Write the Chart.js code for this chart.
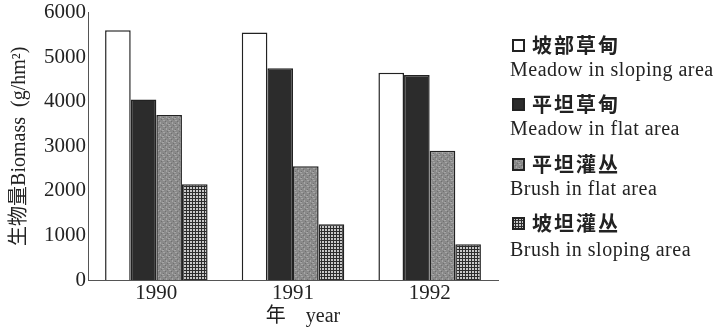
<!DOCTYPE html>
<html lang="zh">
<head>
    <meta charset="UTF-8">
    <title>Biomass by year</title>
    <script src="https://cdn.jsdelivr.net/npm/chart.js"></script>
    <style>
        body { margin: 0; background: #fff; }
        #wrap { position: relative; width: 722px; height: 330px; }
        #legend { position: absolute; left: 510px; top: 0; color: #222; }
        .cn { position: absolute; white-space: nowrap; font: bold 20px "Noto Sans CJK SC", sans-serif; letter-spacing: 2px; line-height: 24px; display: flex; align-items: center; }
        .en { position: absolute; white-space: nowrap; font: 20px "Liberation Serif", serif; letter-spacing: 0.5px; line-height: 24px; left: 0; }
        .cn canvas { margin: 0 7px 0 2px; }
    </style>
</head>
<body>
<div id="wrap">
    <canvas id="bioChart" width="722" height="330"></canvas>
    <div id="legend"></div>
</div>
<script>
    // values (g/hm2)
    const years = ['1990', '1991', '1992'];
    const slopeMeadow = [5600, 5550, 4650];
    const flatMeadow = [4050, 4750, 4600];
    const flatBrush = [3700, 2550, 2900];
    const slopeBrush = [2150, 1250, 800];

    const namesCn = ['坡部草甸', '平坦草甸', '平坦灌丛', '坡坦灌丛'];
    const namesEn = ['Meadow in sloping area', 'Meadow in flat area', 'Brush in flat area', 'Brush in sloping area'];

    // fill patterns for the scanned-look bars
    function makeTile(w, h, paint) {
        const c = document.createElement('canvas');
        c.width = w; c.height = h;
        paint(c.getContext('2d'));
        return c;
    }
    const grayTile = makeTile(6, 6, g => {
        g.fillStyle = '#8a8a8a'; g.fillRect(0, 0, 6, 6);
        g.fillStyle = '#a6a6a6';
        g.fillRect(1, 0, 2, 1); g.fillRect(4, 2, 1, 2); g.fillRect(0, 4, 2, 1);
        g.fillStyle = '#707070';
        g.fillRect(3, 1, 1, 1); g.fillRect(1, 3, 1, 1); g.fillRect(5, 5, 1, 1);
    });
    const gridTile = makeTile(3, 3, g => {
        g.fillStyle = '#c8c8c8'; g.fillRect(0, 0, 3, 3);
        g.fillStyle = '#2c2c2c';
        g.fillRect(0, 0, 3, 1); g.fillRect(0, 0, 1, 3);
    });

    const ctx = document.getElementById('bioChart').getContext('2d');
    const fills = ['#ffffff', '#2c2c2c', ctx.createPattern(grayTile, 'repeat'), ctx.createPattern(gridTile, 'repeat')];
    const series = [slopeMeadow, flatMeadow, flatBrush, slopeBrush];

    new Chart(ctx, {
        type: 'bar',
        data: {
            labels: years,
            datasets: series.map((vals, i) => ({
                label: namesCn[i],
                data: vals,
                backgroundColor: fills[i],
                borderColor: '#222',
                borderWidth: 1.5,
                barPercentage: 1,
                categoryPercentage: 0.75
            }))
        },
        options: {
            responsive: false,
            animation: false,
            layout: { padding: { top: 2, right: 224, bottom: 3, left: 10 } },
            plugins: { legend: { display: false }, tooltip: { enabled: false } },
            scales: {
                x: {
                    grid: { display: false, drawTicks: false },
                    border: { color: '#555', width: 1 },
                    ticks: { color: '#222', padding: 3, font: { family: 'Liberation Serif', size: 21, lineHeight: 1 } },
                    title: {
                        display: true, text: '    年    year', color: '#222',
                        padding: { top: 0, bottom: 0 },
                        font: { family: '"Liberation Serif", "Noto Sans CJK SC"', size: 20, lineHeight: 1 }
                    }
                },
                y: {
                    min: 0, max: 6000,
                    grid: { display: false, drawTicks: false },
                    border: { color: '#555', width: 1 },
                    ticks: {
                        stepSize: 1000, color: '#222', padding: 2,
                        font: { family: 'Liberation Serif', size: 21, lineHeight: 1 },
                        callback: v => String(v)
                    },
                    title: {
                        display: true, text: '生物量Biomass  (g/hm²)', color: '#222',
                        padding: { top: 0, bottom: 12 },
                        font: { family: '"Liberation Serif", "Noto Sans CJK SC"', size: 20, lineHeight: 1 }
                    }
                }
            }
        }
    });

    // legend: Chinese name with swatch, English name below
    const legend = document.getElementById('legend');
    const cnMid = [45, 104, 164, 223];
    const enMid = [69, 128, 188, 249];
    namesCn.forEach((name, i) => {
        const cn = document.createElement('div');
        cn.className = 'cn';
        cn.style.top = (cnMid[i] - 12) + 'px';
        const sw = document.createElement('canvas');
        sw.width = 13; sw.height = 13;
        const g = sw.getContext('2d');
        g.fillStyle = i < 2 ? fills[i] : g.createPattern(i === 2 ? grayTile : gridTile, 'repeat');
        g.fillRect(0, 0, 13, 13);
        g.strokeStyle = '#222'; g.lineWidth = 2;
        g.strokeRect(1, 1, 11, 11);
        cn.appendChild(sw);
        cn.appendChild(document.createTextNode(name));
        legend.appendChild(cn);

        const en = document.createElement('div');
        en.className = 'en';
        en.style.top = (enMid[i] - 12) + 'px';
        en.textContent = namesEn[i];
        legend.appendChild(en);
    });
</script>
</body>
</html>
